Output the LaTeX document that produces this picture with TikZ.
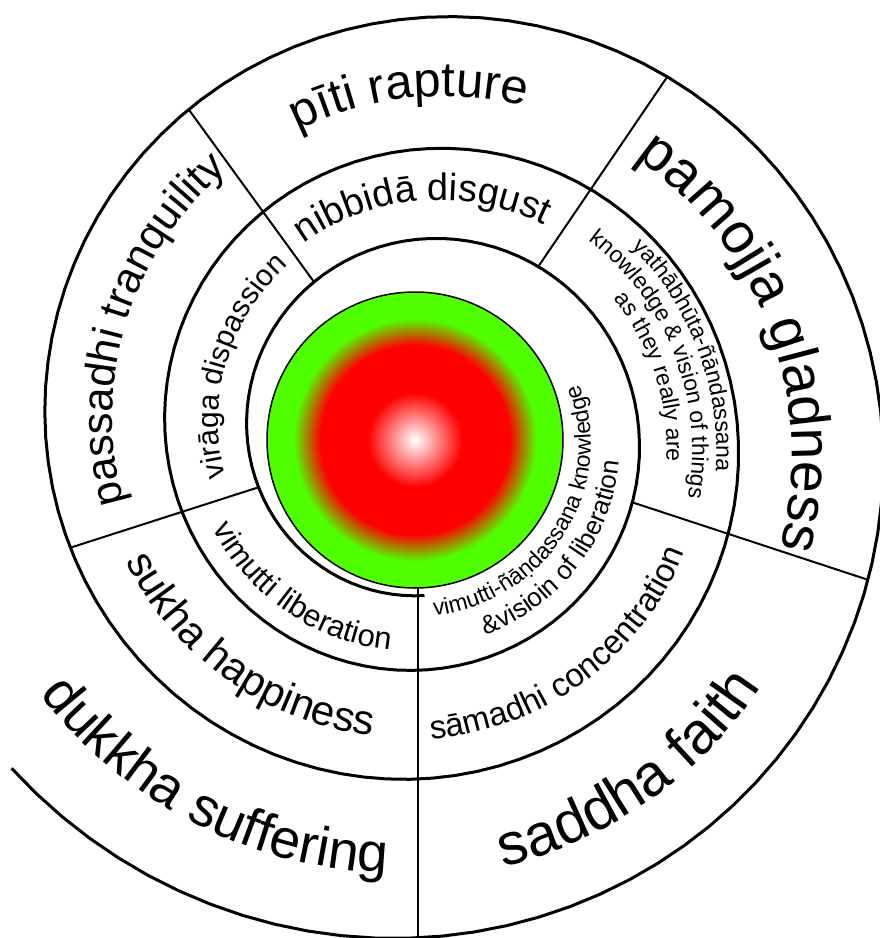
\documentclass[tikz,border=0pt]{standalone}
\usepackage{fontspec}
\setmainfont{Liberation Sans}
\usetikzlibrary{decorations.text}

\definecolor{sphgreen}{RGB}{80,255,0}
\pgfdeclareradialshading{sphereshade}{\pgfpointorigin}{%
  color(0bp)=(white); color(8bp)=(red); color(16bp)=(red);
  color(20.5bp)=(sphgreen); color(25bp)=(sphgreen); color(50bp)=(sphgreen)}

% text laid along the spiral band: size, baseline radius, mid angle, from, to, text
\newcommand{\bandtext}[6]{%
  \path[decorate,decoration={text along path,text align=center,
      text={|\fontsize{#1}{#1}\selectfont|#6}}]
    plot[domain=0:1,samples=60]
      ({#4+(#5-(#4))*\x}:{#2*exp(-0.0010479*(#4+(#5-(#4))*\x-(#3)))});}

\begin{document}
\begin{tikzpicture}[x=1pt,y=1pt,
    declare function={rho(\q)=458*exp(-0.0010479*\q);},
    spiral/.style={line width=3pt,line join=round},
    divider/.style={line width=2pt}
  ]
  \useasboundingbox (-424.5,-504) rectangle (455.5,434);
  \fill[white] (-424.5,-504) rectangle (455.5,434);

  % the spiral, from dukkha inwards
  \draw[spiral] plot[domain=-141:990,samples=300] (\x:{rho(\x)});

  % dividers between the stages
  \coordinate (d1in)  at (55.8:{rho(775.8)});
  \coordinate (d1out) at (55.8:{rho(55.8)});
  \coordinate (d2in)  at (126:{rho(846)});
  \coordinate (d2out) at (126:{rho(126)});
  \coordinate (d3in)  at (341.8:{rho(701.8)});
  \coordinate (d3out) at (341.8:{rho(-18.2)});
  \coordinate (d4in)  at (197.8:{rho(917.8)});
  \coordinate (d4out) at (197.8:{rho(197.8)});
  \coordinate (d5in)  at (-6.5,-154);
  \coordinate (d5out) at (-6.5,-503.5);
  \draw[divider] (d1in) -- (d1out);
  \draw[divider] (d2in) -- (d2out);
  \draw[divider] (d3in) -- (d3out);
  \draw[divider] (d4in) -- (d4out);
  \draw[divider] (d5in) -- (d5out);

  % the sphere in the middle
  \coordinate (core) at (-9.5,-6);
  \shade[shading=sphereshade] (core) circle[radius=148];
  \draw[line width=1.5pt] (core) circle[radius=148];

  % outer turn
  \bandtext{55}{452}{240}{203}{277}{dukkha suffering}
  \bandtext{59}{430}{302}{272}{332}{saddha faith}
  \bandtext{57}{360}{18}{67}{-31}{pamojja gladness}
  \bandtext{49}{336}{93}{122}{64}{pīti rapture}
  \bandtext{43}{318}{160.5}{210.5}{110.5}{passadhi tranquility}
  % second turn
  \bandtext{42}{315}{232}{194}{270}{sukha happiness}
  \bandtext{33}{295}{304}{259}{349}{sāmadhi concentration}
  \bandtext{23}{286}{17.7}{52.7}{-17.3}{yathābhūta-ñāndassana}
  \bandtext{23}{262}{18.5}{63.5}{-26.5}{knowledge {\&} vision of things}
  \bandtext{23}{238}{14.75}{44.75}{-15.25}{as they really are}
  \bandtext{38}{233}{92}{141}{43}{nibbidā disgust}
  \bandtext{30}{210}{161}{207}{115}{virāga dispassion}
  % inner turn
  \bandtext{31}{225}{233}{193}{273}{vimutti liberation}
  \bandtext{23}{172}{327}{252}{402}{vimutti-ñāṇdassana knowledge}
  \bandtext{26}{203}{320}{274}{366}{{\&}visioin of liberation}
\end{tikzpicture}
\end{document}
